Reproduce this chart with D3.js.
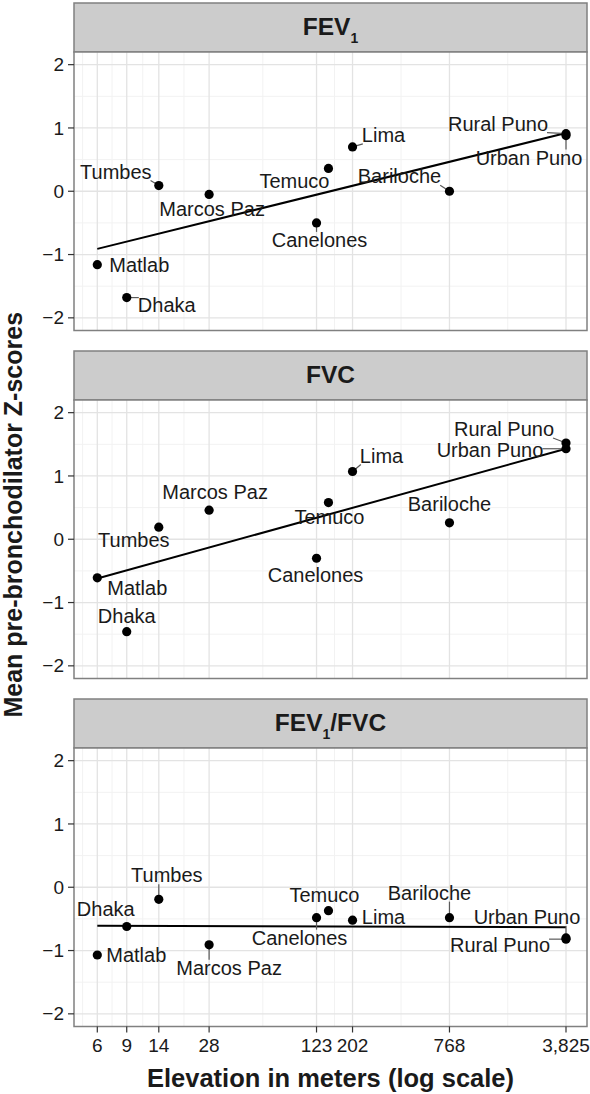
<!DOCTYPE html>
<html>
<head>
<meta charset="utf-8">
<script src="https://cdn.jsdelivr.net/npm/d3@7"></script>
<style>
  body { margin: 0; background: #fff; }
  text { font-family: "Liberation Sans", Arial, Helvetica, sans-serif; fill: #1a1a1a; }
</style>
</head>
<body>
<div id="chart"></div>
<script>
// data
const sites = ['Matlab', 'Dhaka', 'Tumbes', 'Marcos Paz', 'Canelones', 'Temuco', 'Lima', 'Bariloche', 'Rural Puno', 'Urban Puno'];
const elevation = [6, 9, 14, 28, 123, 145, 202, 768, 3825, 3825];
const fev1 = [-1.16, -1.68, 0.09, -0.05, -0.50, 0.36, 0.70, 0.00, 0.91, 0.88];
const fvc = [-0.61, -1.46, 0.19, 0.46, -0.30, 0.58, 1.07, 0.26, 1.52, 1.43];
const ratio = [-1.07, -0.62, -0.19, -0.91, -0.48, -0.37, -0.52, -0.48, -0.82, -0.80];
// fitted line value at the lowest and highest elevation
const fits = [[-0.91, 0.92], [-0.62, 1.43], [-0.61, -0.63]];
const xTicks = [6, 9, 14, 28, 123, 202, 768, 3825];
const yTicks = [-2, -1, 0, 1, 2];

const panels = [
  { title: ['FEV', '1', ''], values: fev1, fit: fits[0] },
  { title: ['FVC', '', ''], values: fvc, fit: fits[1] },
  { title: ['FEV', '1', '/FVC'], values: ratio, fit: fits[2] }
];

// label placement (offset of label centre from its point, and whether a leader is drawn)
const labelLayout = [
  [[42, 0, 0], [40, 7, 1], [-43, -14, 1], [3, 15, 0], [3, 17, 1], [-34, 13, 0], [31, -12, 1], [-50, -15, 1], [-68, -10, 1], [-37, 22, 1]],
  [[40, 10, 0], [0, -16, 0], [-25, 13, 0], [6, -18, 0], [-1, 17, 0], [1, 14, 0], [29, -16, 1], [0, -19, 0], [-62, -14, 1], [-76, 1, 1]],
  [[39, 0, 0], [-21, -17, 0], [8, -24, 1], [20, 23, 1], [-17, 20, 1], [-4, -16, 0], [31, -3, 0], [-20, -25, 1], [-66, 6, 1], [-39, -21, 1]]
];

const width = 590;
const height = 1094;
const left = 74, right = 587;
const stripTops = [3, 351, 699];
const stripH = 49;
const plotH = 278.5;

const svg = d3.select('#chart')
  .append('svg')
  .attr('width', width)
  .attr('height', height)
  .style('background', '#fff');

const x = d3.scaleLog().domain([6, 3825]).range([97.3, 566]);

// minor breaks sit halfway between majors in log space
const xMinor = [];
const firstStep = xTicks[0] / xTicks[1];
xMinor.push(Math.sqrt(xTicks[0] * xTicks[0] * firstStep));
for (let i = 0; i < xTicks.length - 1; i++) xMinor.push(Math.sqrt(xTicks[i] * xTicks[i + 1]));
const yMinor = [-1.5, -0.5, 0.5, 1.5];

panels.forEach((p, pi) => {
  const top = stripTops[pi] + stripH;
  const bottom = top + plotH;
  const y = d3.scaleLinear().domain([-2.2, 2.2]).range([bottom, top]);
  const g = svg.append('g');

  // strip
  g.append('rect')
    .attr('x', left).attr('y', stripTops[pi])
    .attr('width', right - left).attr('height', stripH)
    .attr('fill', '#cccccc').attr('stroke', '#808080').attr('stroke-width', 1.5);

  const st = g.append('text')
    .attr('x', (left + right) / 2)
    .attr('y', stripTops[pi] + 32)
    .attr('text-anchor', 'middle')
    .style('font-weight', 'bold')
    .style('font-size', '24.5px');
  st.append('tspan').text(p.title[0]);
  if (p.title[1]) {
    st.append('tspan').attr('dy', 8).style('font-size', '14px').text(p.title[1]);
    if (p.title[2]) st.append('tspan').attr('dy', -8).text(p.title[2]);
  }

  // plot background and grid
  g.append('rect')
    .attr('x', left).attr('y', top)
    .attr('width', right - left).attr('height', plotH)
    .attr('fill', '#fff');

  const grid = g.append('g');
  grid.selectAll('line.xminor')
    .data(xMinor.filter(v => x(v) > left && x(v) < right))
    .enter().append('line')
    .attr('x1', d => x(d)).attr('x2', d => x(d))
    .attr('y1', top).attr('y2', bottom)
    .attr('stroke', '#f2f2f2').attr('stroke-width', 1);
  grid.selectAll('line.yminor')
    .data(yMinor)
    .enter().append('line')
    .attr('x1', left).attr('x2', right)
    .attr('y1', d => y(d)).attr('y2', d => y(d))
    .attr('stroke', '#f2f2f2').attr('stroke-width', 1);
  grid.selectAll('line.xmajor')
    .data(xTicks)
    .enter().append('line')
    .attr('x1', d => x(d)).attr('x2', d => x(d))
    .attr('y1', top).attr('y2', bottom)
    .attr('stroke', '#e3e3e3').attr('stroke-width', 1.3);
  grid.selectAll('line.ymajor')
    .data(yTicks)
    .enter().append('line')
    .attr('x1', left).attr('x2', right)
    .attr('y1', d => y(d)).attr('y2', d => y(d))
    .attr('stroke', '#e3e3e3').attr('stroke-width', 1.3);

  // fitted line
  const ext = d3.extent(elevation);
  g.append('line')
    .attr('x1', x(ext[0])).attr('y1', y(p.fit[0]))
    .attr('x2', x(ext[1])).attr('y2', y(p.fit[1]))
    .attr('stroke', '#000').attr('stroke-width', 2);

  const segs = g.append('g');

  // points
  g.selectAll('circle')
    .data(p.values)
    .enter().append('circle')
    .attr('cx', (d, i) => x(elevation[i]))
    .attr('cy', d => y(d))
    .attr('r', 4.6)
    .attr('fill', '#000');

  // labels with leader segments
  p.values.forEach((v, i) => {
    const px = x(elevation[i]);
    const py = y(v);
    const [dx, dy, seg] = labelLayout[pi][i];
    const t = g.append('text')
      .attr('x', px + dx)
      .attr('y', py + dy)
      .attr('dy', '0.35em')
      .attr('text-anchor', 'middle')
      .style('font-size', '20px')
      .text(sites[i]);
    if (seg) {
      const b = t.node().getBBox();
      const bx0 = b.x + 1, bx1 = b.x + b.width - 1;
      const by0 = b.y + 3, by1 = b.y + b.height - 2;
      const ex = Math.max(bx0, Math.min(px, bx1));
      const ey = Math.max(by0, Math.min(py, by1));
      segs.append('line')
        .attr('x1', px).attr('y1', py)
        .attr('x2', ex).attr('y2', ey)
        .attr('stroke', '#5a5a5a').attr('stroke-width', 1.2);
    }
  });

  // border
  g.append('rect')
    .attr('x', left).attr('y', top)
    .attr('width', right - left).attr('height', plotH)
    .attr('fill', 'none').attr('stroke', '#808080').attr('stroke-width', 1.5);

  // y axis
  const ya = g.append('g');
  ya.selectAll('line')
    .data(yTicks)
    .enter().append('line')
    .attr('x1', left - 6).attr('x2', left)
    .attr('y1', d => y(d)).attr('y2', d => y(d))
    .attr('stroke', '#333').attr('stroke-width', 1.2);
  ya.selectAll('text')
    .data(yTicks)
    .enter().append('text')
    .attr('x', left - 10)
    .attr('y', d => y(d))
    .attr('dy', '0.35em')
    .attr('text-anchor', 'end')
    .style('font-size', '19px')
    .text(d => d < 0 ? '\u2212' + Math.abs(d) : d);

  // x axis only under the last panel
  if (pi === panels.length - 1) {
    const xa = g.append('g');
    xa.selectAll('line')
      .data(xTicks)
      .enter().append('line')
      .attr('x1', d => x(d)).attr('x2', d => x(d))
      .attr('y1', bottom).attr('y2', bottom + 6)
      .attr('stroke', '#333').attr('stroke-width', 1.2);
    xa.selectAll('text')
      .data(xTicks)
      .enter().append('text')
      .attr('x', d => x(d))
      .attr('y', bottom + 25.5)
      .attr('text-anchor', 'middle')
      .style('font-size', '19px')
      .text(d => d3.format(',')(d));
  }
});

// axis titles
svg.append('text')
  .attr('x', (left + right) / 2)
  .attr('y', 1087)
  .attr('text-anchor', 'middle')
  .style('font-weight', 'bold')
  .style('font-size', '25.5px')
  .text('Elevation in meters (log scale)');

svg.append('text')
  .attr('transform', `translate(22, ${(stripTops[0] + stripTops[2] + stripH + plotH) / 2}) rotate(-90)`)
  .attr('text-anchor', 'middle')
  .style('font-weight', 'bold')
  .style('font-size', '25px')
  .text('Mean pre-bronchodilator Z-scores');
</script>
</body>
</html>
